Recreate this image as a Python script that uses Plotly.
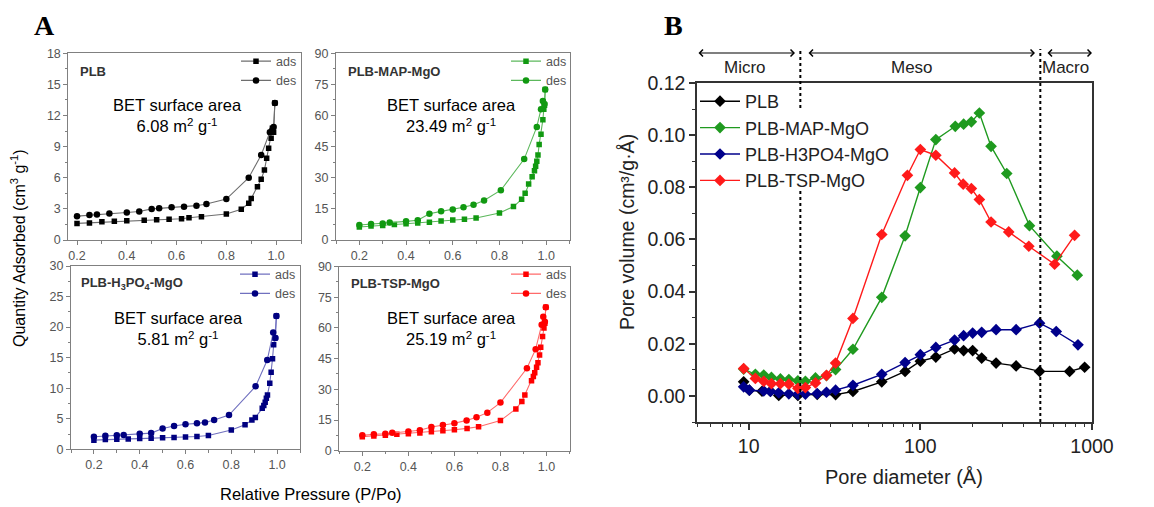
import plotly.graph_objects as go
import math

W, H = 1154, 507

# ---------------- Panel A data (N2 isotherms) ----------------
plb_ads_p = [0.20, 0.25, 0.30, 0.35, 0.40, 0.47, 0.52, 0.57, 0.62, 0.65, 0.70, 0.80, 0.86, 0.89, 0.90, 0.925, 0.94, 0.953, 0.962, 0.97, 0.98, 0.985, 0.99, 0.995]
plb_ads_q = [1.6, 1.65, 1.75, 1.8, 1.85, 1.9, 1.95, 2.0, 2.05, 2.15, 2.25, 2.5, 2.96, 3.54, 4.0, 5.14, 5.85, 6.75, 7.87, 8.84, 9.8, 10.77, 10.4, 13.2]
plb_des_p = [0.995, 0.99, 0.985, 0.975, 0.94, 0.89, 0.80, 0.72, 0.68, 0.63, 0.58, 0.53, 0.50, 0.45, 0.40, 0.33, 0.28, 0.25, 0.20]
plb_des_q = [13.2, 10.9, 10.6, 10.4, 8.2, 6.0, 3.95, 3.47, 3.31, 3.2, 3.15, 3.05, 3.0, 2.75, 2.65, 2.55, 2.45, 2.4, 2.3]

map_ads_p = [0.20, 0.25, 0.30, 0.35, 0.40, 0.45, 0.50, 0.55, 0.60, 0.65, 0.70, 0.80, 0.86, 0.895, 0.91, 0.925, 0.94, 0.95, 0.955, 0.96, 0.965, 0.97, 0.978, 0.986, 0.99, 0.993, 0.996]
map_ads_q = [6.3, 6.8, 7.0, 7.5, 7.8, 8.2, 8.6, 9.1, 9.6, 10.0, 10.6, 13.0, 16.1, 19.6, 22.5, 27.0, 30.5, 33.4, 35.5, 38.0, 41.0, 46.0, 51.0, 58.0, 63.0, 65.0, 72.5]
map_des_p = [0.996, 0.993, 0.986, 0.978, 0.96, 0.906, 0.806, 0.734, 0.689, 0.646, 0.60, 0.55, 0.50, 0.45, 0.40, 0.33, 0.30, 0.25, 0.20]
map_des_q = [72.5, 65.5, 67.0, 63.0, 54.5, 39.0, 24.0, 19.0, 17.0, 15.8, 14.7, 13.8, 12.7, 9.5, 9.0, 8.4, 8.0, 7.7, 7.2]

h3_ads_p = [0.20, 0.25, 0.30, 0.35, 0.40, 0.45, 0.50, 0.55, 0.60, 0.65, 0.70, 0.80, 0.86, 0.89, 0.905, 0.935, 0.942, 0.948, 0.953, 0.958, 0.968, 0.974, 0.98, 0.985, 0.99, 0.997]
h3_ads_q = [1.5, 1.6, 1.65, 1.7, 1.75, 1.8, 1.9, 1.95, 2.0, 2.1, 2.25, 3.15, 4.0, 4.8, 5.2, 6.7, 7.15, 7.7, 8.35, 8.9, 10.8, 12.6, 14.8, 17.1, 18.2, 21.8]
h3_des_p = [0.997, 0.993, 0.983, 0.957, 0.906, 0.79, 0.725, 0.685, 0.65, 0.60, 0.55, 0.50, 0.45, 0.40, 0.33, 0.30, 0.25, 0.20]
h3_des_q = [21.8, 18.2, 19.1, 14.6, 10.3, 5.6, 4.8, 4.4, 4.25, 4.1, 3.8, 3.4, 2.65, 2.55, 2.35, 2.3, 2.2, 2.05]

tsp_ads_p = [0.20, 0.25, 0.30, 0.35, 0.40, 0.45, 0.50, 0.55, 0.60, 0.655, 0.705, 0.80, 0.867, 0.893, 0.906, 0.935, 0.943, 0.949, 0.957, 0.963, 0.97, 0.975, 0.983, 0.989, 0.993, 0.997]
tsp_ads_q = [6.8, 7.2, 7.6, 8.0, 8.3, 8.7, 9.2, 9.7, 10.2, 10.9, 11.7, 14.7, 20.4, 24.0, 27.2, 34.2, 36.2, 38.1, 40.8, 43.0, 46.8, 50.5, 55.8, 60.0, 62.3, 70.1]
tsp_des_p = [0.997, 0.993, 0.986, 0.979, 0.953, 0.915, 0.80, 0.743, 0.696, 0.653, 0.60, 0.55, 0.50, 0.45, 0.40, 0.33, 0.30, 0.25, 0.20]
tsp_des_q = [70.1, 63.0, 65.5, 61.5, 49.6, 40.3, 23.5, 18.6, 16.3, 14.8, 13.4, 12.5, 11.6, 10.0, 9.4, 8.8, 8.3, 8.0, 7.5]

a_titles = ["PLB", "PLB-MAP-MgO", "PLB-H<sub>3</sub>PO<sub>4</sub>-MgO", "PLB-TSP-MgO"]
a_bet = ["6.08", "23.49", "5.81", "25.19"]
a_xticks = [0.2, 0.4, 0.6, 0.8, 1.0]
a_xticktext = ["0.2", "0.4", "0.6", "0.8", "1.0"]

# ---------------- Panel B data (pore size distribution) ----------------
b_names = ["PLB", "PLB-MAP-MgO", "PLB-H3PO4-MgO", "PLB-TSP-MgO"]
b_plb_d = [9.35, 10.09, 11.96, 13.39, 14.97, 19.34, 25.07, 32.08, 40.5, 59.6, 81.5, 100, 123.1, 158.3, 178.7, 201.7, 227.7, 276.2, 361.4, 494.8, 740.6, 906]
b_plb_v = [0.0054, 0.0022, 0.0018, 0.0018, 0.0002, 0.0002, 0.0006, 0.0005, 0.0017, 0.0054, 0.0094, 0.0133, 0.0149, 0.0180, 0.0174, 0.0174, 0.0145, 0.0126, 0.0115, 0.0094, 0.0094, 0.0110]
b_map_d = [9.35, 10.94, 12.24, 13.57, 15.31, 17.14, 19.34, 21.4, 24.5, 28.4, 32.08, 40.5, 59.6, 81.5, 100, 123.1, 159.8, 178.7, 198.2, 220.7, 258.2, 318.7, 432.3, 624.4, 820.9]
b_map_v = [0.0103, 0.0083, 0.0080, 0.0071, 0.0065, 0.0063, 0.0058, 0.0056, 0.0069, 0.0078, 0.0101, 0.0179, 0.0378, 0.0614, 0.0799, 0.0983, 0.1034, 0.1042, 0.1051, 0.1085, 0.0957, 0.0853, 0.0653, 0.0536, 0.0463]
b_h3_d = [9.35, 10.09, 12.24, 13.39, 14.97, 17.14, 19.34, 21.4, 25.07, 28.4, 32.08, 40.5, 59.6, 81.5, 100, 123.1, 158.3, 178.7, 201.7, 227.7, 276.2, 361.4, 494.8, 618.8, 828.5]
b_h3_v = [0.0035, 0.0022, 0.0019, 0.0017, 0.0012, 0.0008, 0.0006, 0.0007, 0.0009, 0.0014, 0.0022, 0.0041, 0.0083, 0.0128, 0.0158, 0.0186, 0.0214, 0.0231, 0.0241, 0.0244, 0.0254, 0.0254, 0.0279, 0.0247, 0.0196]
b_tsp_d = [9.35, 10.94, 12.24, 13.57, 15.31, 17.14, 19.34, 21.4, 24.5, 28.4, 32.08, 40.5, 59.6, 84.1, 100, 123.1, 158.3, 177.7, 198.2, 220.7, 258.2, 327.3, 428.5, 605.6, 792]
b_tsp_v = [0.0105, 0.0067, 0.0056, 0.0047, 0.0047, 0.0045, 0.0029, 0.0032, 0.0050, 0.0079, 0.0126, 0.0297, 0.0619, 0.0846, 0.0945, 0.0923, 0.0855, 0.0812, 0.0795, 0.0753, 0.0667, 0.0629, 0.0574, 0.0505, 0.0616]
b_yticks = [0.0, 0.02, 0.04, 0.06, 0.08, 0.10, 0.12]
b_xticks = [10, 100, 1000]
b_xticktext = ["10", "100", "1000"]
b_region_bounds = [20, 500]
b_regions = ["Micro", "Meso", "Macro"]

FONT = "Liberation Sans, Arial, sans-serif"

def fx(p):
    return p / W

def fy(p):
    return 1 - p / H

fig = go.Figure()

# ---------------- Panel A ----------------
a_sets = [
    (plb_ads_p, plb_ads_q, plb_des_p, plb_des_q),
    (map_ads_p, map_ads_q, map_des_p, map_des_q),
    (h3_ads_p, h3_ads_q, h3_des_p, h3_des_q),
    (tsp_ads_p, tsp_ads_q, tsp_des_p, tsp_des_q),
]
a_line_col = ["#6e6e6e", "#5cb85c", "#7070bf", "#ff6a6a"]
a_mark_col = ["#000000", "#119911", "#000080", "#ff0000"]
a_boxes = [(68.3, 301.0, 53.3, 240.0), (336.0, 569.5, 53.3, 240.0),
           (71.0, 300.0, 266.0, 449.3), (339.3, 569.5, 266.5, 450.7)]
a_xranges = [[0.165, 1.1], [0.1, 1.1], [0.1, 1.1], [0.1, 1.1]]
a_yranges = [[0, 18], [0, 90], [0, 30], [0, 90]]
a_ydt = [3, 15, 5, 15]
a_betpos = [(0.47, 0.665), (0.496, 0.665), (0.469, 0.66), (0.489, 0.665)]
a_titlepos = [(0.042, 0.9), (0.043, 0.9), (0.036, 0.906), (0.043, 0.909)]
a_legpx = [(236, 46.5), (506, 46.5), (235, 259.5), (506, 259.5)]

annotations = []
for i in range(4):
    n = "" if i == 0 else str(i + 1)
    xa, ya = "x" + n, "y" + n
    leg = "legend" + n
    ap, aq, dp, dq = a_sets[i]
    fig.add_trace(go.Scatter(x=ap, y=aq, mode="lines+markers", name="ads",
                             xaxis=xa, yaxis=ya, legend=leg,
                             line=dict(color=a_line_col[i], width=1.1),
                             marker=dict(symbol="square", size=5.5, color=a_mark_col[i])))
    fig.add_trace(go.Scatter(x=dp, y=dq, mode="lines+markers", name="des",
                             xaxis=xa, yaxis=ya, legend=leg,
                             line=dict(color=a_line_col[i], width=1.1),
                             marker=dict(symbol="circle", size=6.5, color=a_mark_col[i])))
    x0, x1, y0, y1 = a_boxes[i]
    axcommon = dict(showline=True, mirror=True, linecolor="#808080", linewidth=1,
                    ticks="outside", ticklen=4, tickcolor="#808080", showgrid=False,
                    zeroline=False, automargin=False,
                    tickfont=dict(family=FONT, size=12.5, color="#555555"))
    fig.layout["xaxis" + n] = dict(domain=[fx(x0), fx(x1)], range=a_xranges[i], anchor=ya,
                                   tickvals=a_xticks, ticktext=a_xticktext,
                                   minor=dict(ticks="outside", ticklen=2.5, tickcolor="#808080", dtick=0.1, tick0=0.1),
                                   **axcommon)
    fig.layout["yaxis" + n] = dict(domain=[fy(y1), fy(y0)], range=a_yranges[i], anchor=xa,
                                   dtick=a_ydt[i], tick0=0,
                                   minor=dict(ticks="outside", ticklen=2.5, tickcolor="#808080", dtick=a_ydt[i] / 2, tick0=0),
                                   **axcommon)
    lx, ly = a_legpx[i]
    fig.layout[leg] = dict(x=fx(lx), y=fy(ly), xanchor="left", yanchor="top",
                           bgcolor="rgba(255,255,255,0)", font=dict(family=FONT, size=12.5, color="#555555"),
                           tracegroupgap=0)
    tx, ty = a_titlepos[i]
    annotations.append(dict(text="<b>" + a_titles[i] + "</b>", xref=xa + " domain", yref=ya + " domain",
                            x=tx, y=ty, xanchor="left", yanchor="middle", showarrow=False,
                            font=dict(family=FONT, size=13, color="#333333")))
    bx, by = a_betpos[i]
    annotations.append(dict(text="BET surface area<br>" + a_bet[i] + " m<sup>2</sup> g<sup>-1</sup>",
                            xref=xa + " domain", yref=ya + " domain", x=bx, y=by,
                            xanchor="center", yanchor="middle", showarrow=False, align="center",
                            font=dict(family=FONT, size=16.5, color="#000000")))

annotations.append(dict(text="Quantity Adsorbed (cm<sup>3</sup> g<sup>-1</sup>)", xref="paper", yref="paper",
                        x=fx(18), y=fy(248), textangle=-90, showarrow=False, xanchor="center", yanchor="middle",
                        font=dict(family=FONT, size=16, color="#000000")))
annotations.append(dict(text="Relative Pressure (P/Po)", xref="paper", yref="paper",
                        x=fx(311), y=fy(494), showarrow=False, xanchor="center", yanchor="middle",
                        font=dict(family=FONT, size=16.5, color="#000000")))
annotations.append(dict(text="<b>A</b>", xref="paper", yref="paper", x=fx(44), y=fy(25), showarrow=False,
                        xanchor="center", yanchor="middle",
                        font=dict(family="Liberation Serif, Times New Roman, serif", size=28, color="#000000")))
annotations.append(dict(text="<b>B</b>", xref="paper", yref="paper", x=fx(673), y=fy(25), showarrow=False,
                        xanchor="center", yanchor="middle",
                        font=dict(family="Liberation Serif, Times New Roman, serif", size=28, color="#000000")))

# ---------------- Panel B ----------------
b_sets = [(b_plb_d, b_plb_v), (b_map_d, b_map_v), (b_h3_d, b_h3_v), (b_tsp_d, b_tsp_v)]
b_cols = ["#000000", "#1f9a1f", "#00008b", "#ff1a1a"]
for i in range(4):
    d, v = b_sets[i]
    fig.add_trace(go.Scatter(x=d, y=v, mode="lines+markers", name=b_names[i], xaxis="x5", yaxis="y5",
                             legend="legend5", line=dict(color=b_cols[i], width=1.4),
                             marker=dict(symbol="diamond", size=9, color=b_cols[i])))

BX0, BX1, BY0, BY1 = 697.0, 1092.0, 83.0, 422.0
minor_log = [m * 10 ** e for e in (0, 1, 2) for m in range(2, 10) if 5 <= m * 10 ** e <= 1000]
bfont = dict(family=FONT, size=19.5, color="#222222")
fig.layout["xaxis5"] = dict(domain=[fx(BX0), fx(BX1)], type="log", range=[math.log10(5), 3], anchor="y5",
                            showline=True, mirror=True, linecolor="#333333", linewidth=1.5,
                            ticks="outside", ticklen=6, tickwidth=1.5, tickcolor="#333333",
                            tickvals=b_xticks, ticktext=b_xticktext, showgrid=False, zeroline=False,
                            automargin=False,
                            minor=dict(ticks="outside", ticklen=3.5, tickwidth=1.2, tickcolor="#333333",
                                       tickmode="array", tickvals=minor_log),
                            tickfont=bfont)
fig.layout["yaxis5"] = dict(domain=[fy(BY1), fy(BY0)], range=[-0.01, 0.12], anchor="x5",
                            showline=True, mirror=True, linecolor="#333333", linewidth=1.5,
                            ticks="outside", ticklen=6, tickwidth=1.5, tickcolor="#333333",
                            tickvals=b_yticks, tickformat=".2f", showgrid=False, zeroline=False,
                            automargin=False,
                            minor=dict(ticks="outside", ticklen=3.5, tickwidth=1.2, tickcolor="#333333",
                                       dtick=0.01, tick0=0),
                            tickfont=bfont)
fig.layout["legend5"] = dict(x=fx(695), y=fy(83), xanchor="left", yanchor="top",
                             bgcolor="rgba(255,255,255,0)",
                             font=dict(family=FONT, size=18, color="#222222"), tracegroupgap=0,
                             itemwidth=40)

annotations.append(dict(text="Pore volume (cm³/g·Å)", xref="paper", yref="paper", x=fx(627), y=fy(232),
                        textangle=-90, showarrow=False, xanchor="center", yanchor="middle",
                        font=dict(family=FONT, size=19.5, color="#222222")))
annotations.append(dict(text="Pore diameter (Å)", xref="paper", yref="paper", x=fx(904), y=fy(477),
                        showarrow=False, xanchor="center", yanchor="middle",
                        font=dict(family=FONT, size=20, color="#222222")))

# dotted region boundaries (the one at 20 Å is interrupted where the legend sits)
dot_segments = [(b_region_bounds[0], 49, 108), (b_region_bounds[0], 188, BY1), (b_region_bounds[1], 49, BY1)]
shapes = []
for b, ptop, pbot in dot_segments:
    shapes.append(dict(type="line", xref="x5", yref="paper", x0=b, x1=b, y0=fy(pbot), y1=fy(ptop),
                       line=dict(color="#000000", width=2, dash="dot"), layer="above"))

arrow_spans = [(697, 795), (807, 1035), (1046, 1092)]
label_cx = [745, 912, 1065]
for (a0, a1), lab, cx in zip(arrow_spans, b_regions, label_cx):
    annotations.append(dict(text="", xref="paper", yref="paper", x=fx(a1), y=fy(53),
                            axref="pixel", ayref="pixel", ax=-(a1 - a0), ay=0, showarrow=True,
                            arrowside="end+start", arrowhead=4, startarrowhead=4, arrowsize=1.2,
                            startarrowsize=1.2, arrowwidth=1.1, arrowcolor="#000000", standoff=0, startstandoff=0))
    annotations.append(dict(text=lab, xref="paper", yref="paper", x=fx(cx), y=fy(67), showarrow=False,
                            xanchor="center", yanchor="middle", font=dict(family=FONT, size=17, color="#222222")))

fig.update_layout(width=W, height=H, margin=dict(l=0, r=0, t=0, b=0, autoexpand=False),
                  paper_bgcolor="#ffffff", plot_bgcolor="#ffffff",
                  annotations=annotations, shapes=shapes, showlegend=True)

fig.write_html("out.html")
